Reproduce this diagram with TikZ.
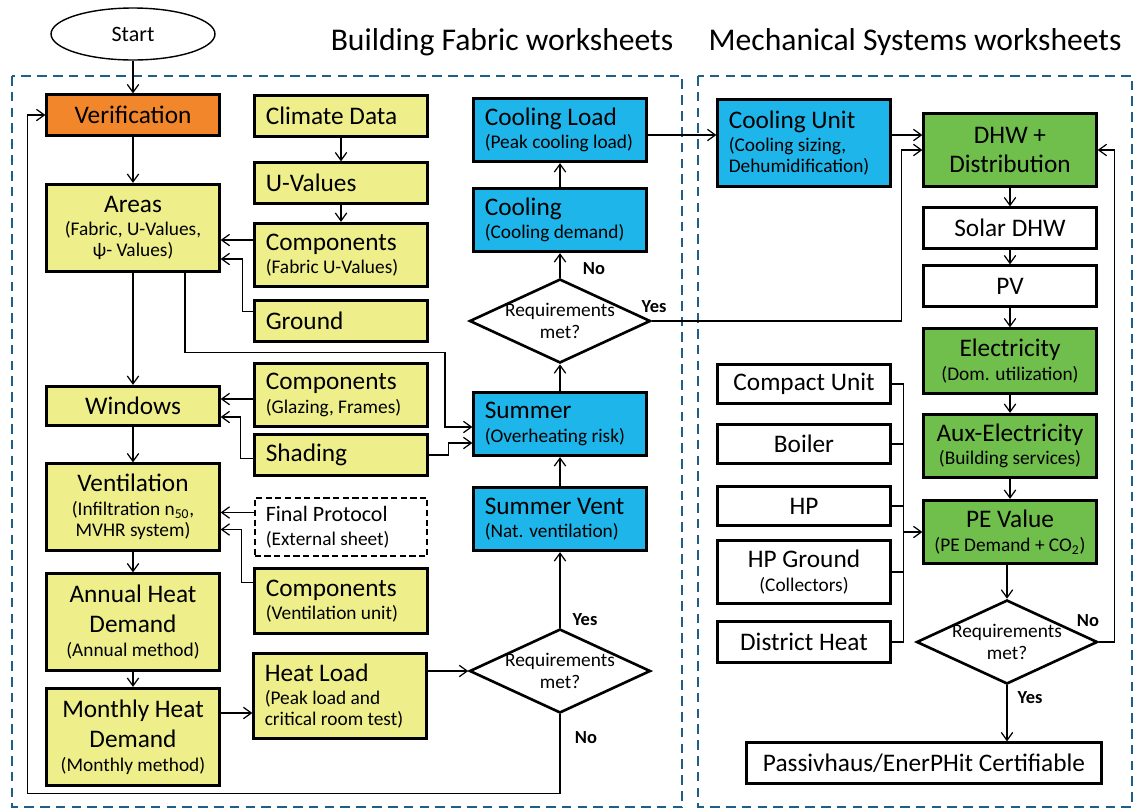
\documentclass[tikz,border=0pt]{standalone}
\usepackage{fontspec}
\setmainfont{Carlito}
\usetikzlibrary{shapes.geometric,arrows.meta}

\definecolor{fabricfill}{RGB}{238,238,138}
\definecolor{coolfill}{RGB}{30,182,234}
\definecolor{mechfill}{RGB}{112,190,76}
\definecolor{veriffill}{RGB}{242,134,42}
\definecolor{panelcol}{RGB}{31,94,135}

\newcommand\subt[1]{{\fontsize{11}{12.5}\selectfont #1}}

\tikzset{
  box/.style={draw, line width=1.6pt, minimum width=3.45cm, minimum height=0.81cm,
    inner xsep=0.08cm, inner ysep=0.08cm, text width=3.29cm, align=flush center,
    font=\fontsize{14.4}{13.5}\selectfont},
  lbox/.style={box, inner xsep=0.22cm, text width=3.01cm, align=flush left},
  tall/.style={minimum height=1.27cm},
  startnode/.style={ellipse, draw, line width=0.8pt, minimum width=3.28cm,
    minimum height=1.04cm, font=\fontsize{12.5}{14}\selectfont},
  req/.style={diamond, draw, line width=1.5pt, shape aspect=2.1, inner sep=-4pt,
    minimum width=3.62cm, minimum height=1.68cm, align=center,
    font=\fontsize{11}{12.5}\selectfont},
  lbl/.style={inner sep=0pt, font=\fontsize{10.5}{12}\selectfont\bfseries},
  sheettitle/.style={inner sep=0pt, font=\fontsize{18}{20}\selectfont},
  panel/.style={draw=panelcol, line width=1.6pt, dash pattern=on 5.5pt off 3.5pt},
  wire/.style={line width=0.7pt},
  link/.style={wire, ->},
}

\begin{document}
\begin{tikzpicture}[x=0.02cm, y=-0.02cm, >={Straight Barb[length=4.5pt,width=6.5pt]}]
\useasboundingbox (0,0) rectangle (1135,809);

% the two groups of worksheets
\draw[panel] (12,76) rectangle (682,807);
\draw[panel] (698,76) rectangle (1132,807);
\node[sheettitle] (fabtitle) at (502,42) {Building Fabric worksheets};
\node[sheettitle] (mechtitle) at (915,42) {Mechanical Systems worksheets};

\node[startnode] (start) at (133,34) {Start};

% left column
\node[box, fill=veriffill] (verif) at (133,115) {Verification};
\node[box, fill=fabricfill, minimum height=1.75cm] (areas) at (133,228)
  {Areas\\\subt{(Fabric,  U-Values,}\\[-1.5pt]\subt{ψ- Values)}};
\node[box, fill=fabricfill, minimum height=0.79cm] (windows) at (133,406) {Windows};
\node[box, fill=fabricfill, minimum height=1.73cm] (vent) at (133,507)
  {Ventilation\\\subt{(Infiltration n\textsubscript{50},}\\[-1.5pt]\subt{MVHR system)}};
\node[box, fill=fabricfill, minimum height=1.93cm] (annual) at (133,622)
  {Annual Heat\\[3.5pt]Demand\\\subt{(Annual method)}};
\node[box, fill=fabricfill, minimum height=1.95cm] (monthly) at (133,737)
  {Monthly Heat\\[3.5pt]Demand\\\subt{(Monthly method)}};

% input sheets
\node[lbox, fill=fabricfill, minimum height=0.83cm] (climate) at (341,116) {Climate Data};
\node[lbox, fill=fabricfill] (uvalues) at (341,183) {U-Values};
\node[lbox, fill=fabricfill, tall] (compfabric) at (341,255) {Components\\\subt{(Fabric U-Values)}};
\node[lbox, fill=fabricfill] (ground) at (341,321) {Ground};
\node[lbox, fill=fabricfill, tall] (compglazing) at (341,395) {Components\\\subt{(Glazing, Frames)}};
\node[lbox, fill=fabricfill] (shading) at (341,455) {Shading};
\node[lbox, fill=white, dashed, line width=1.2pt, dash pattern=on 3.5pt off 2pt,
  minimum height=1.17cm, font=\fontsize{12.5}{13.5}\selectfont] (protocol) at (341,527)
  {Final Protocol\\\subt{(External sheet)}};
\node[lbox, fill=fabricfill, minimum height=1.29cm] (compvent) at (341,601)
  {Components\\\subt{(Ventilation unit)}};
\node[lbox, fill=fabricfill, minimum height=1.71cm] (heatload) at (340,696)
  {Heat Load\\\subt{(Peak load and}\\[-1.5pt]\subt{critical room test)}};

% summer and cooling
\node[lbox, fill=coolfill, tall] (coolload) at (560,130) {Cooling Load\\\subt{(Peak cooling load)}};
\node[lbox, fill=coolfill, tall] (cooling) at (560,220) {Cooling\\\subt{(Cooling demand)}};
\node[req] (reqsummer) at (560,321) {Requirements\\met?};
\node[lbox, fill=coolfill, tall] (summer) at (560,424) {Summer\\\subt{(Overheating risk)}};
\node[lbox, fill=coolfill, tall] (summervent) at (560,519) {Summer Vent\\\subt{(Nat. ventilation)}};
\node[req] (reqheat) at (560,671) {Requirements\\met?};

% mechanical systems
\node[lbox, fill=coolfill, minimum height=1.75cm] (coolunit) at (804,143)
  {Cooling Unit\\\subt{(Cooling sizing,}\\[-1.5pt]\subt{Dehumidification)}};
\node[box, fill=mechfill, minimum height=1.45cm] (dhw) at (1010,150) {DHW +\\[3.5pt]Distribution};
\node[box, fill=white] (solar) at (1010,228) {Solar DHW};
\node[box, fill=white] (pv) at (1010,286) {PV};
\node[box, fill=mechfill, minimum height=1.29cm] (elec) at (1010,361) {Electricity\\\subt{(Dom. utilization)}};
\node[box, fill=mechfill, tall] (aux) at (1010,446) {Aux-Electricity\\\subt{(Building services)}};
\node[box, fill=mechfill, tall] (pe) at (1010,532) {PE Value\\\subt{(PE Demand + CO\textsubscript{2})}};
\node[req] (reqmech) at (1007,642) {Requirements\\met?};
\node[box, fill=white, text width=6.9cm, minimum width=7.1cm] (cert) at (924,763)
  {Passivhaus/EnerPHit Certifiable};

\node[box, fill=white, minimum height=0.79cm] (compact) at (804,384) {Compact Unit};
\node[box, fill=white, minimum height=0.79cm] (boiler) at (804,444) {Boiler};
\node[box, fill=white, minimum height=0.79cm] (hp) at (804,506) {HP};
\node[box, fill=white, minimum height=1.25cm] (hpground) at (804,572) {HP Ground\\\subt{(Collectors)}};
\node[box, fill=white, minimum height=0.83cm] (district) at (804,642) {District Heat};

% yes / no
\node[lbl] (nocool) at (594,269) {No};
\node[lbl] (yesmech) at (654,307) {Yes};
\node[lbl] (yesvent) at (585,620) {Yes};
\node[lbl] (noverif) at (586,738) {No};
\node[lbl] (nodhw) at (1088,621) {No};
\node[lbl] (yescert) at (1030,698) {Yes};

% fabric chain
\draw[link] (start) -- (verif);
\draw[link] (verif) -- (areas);
\draw[link] (areas) -- (windows);
\draw[link] (windows) -- (vent);
\draw[link] (vent) -- (annual);
\draw[link] (annual) -- (monthly);
\coordinate (m1) at ([yshift=0.48cm]monthly.east);
\draw[link] (m1) -- (m1 -| heatload.west);
\draw[link] (heatload.east |- reqheat.west) -- (reqheat.west);

% input sheets into the chain
\draw[link] (climate) -- (uvalues);
\draw[link] (uvalues) -- (compfabric);
\coordinate (f1) at ([yshift=0.3cm]compfabric.west);
\draw[link] (f1) -- (f1 -| areas.east);
\draw[link] ([yshift=0.19cm]ground.west) -- ++(-11,0) |- ([yshift=-0.62cm]areas.east);
\coordinate (g1) at ([yshift=-0.08cm]compglazing.west);
\draw[link] (g1) -- (g1 -| windows.east);
\draw[link] ([yshift=-0.07cm]shading.west) -- ++(-13,0) |- ([yshift=-0.22cm]windows.east);
\coordinate (p1) at ([yshift=0.29cm]protocol.west);
\draw[link] (p1) -- (p1 -| vent.east);
\draw[link] ([yshift=0.37cm]compvent.west) -- ++(-12,0) |- ([yshift=-0.45cm]vent.east);

% summer case
\draw[link] ([xshift=1.04cm]areas.south) -- ++(0,79) -- ++(260,0) |- ([yshift=-0.06cm]summer.west);
\draw[link] (shading.east) -- ++(20,0) |- ([yshift=-0.38cm]summer.west);
\draw[link] (reqheat) -- (summervent);
\draw[link] (summervent) -- (summer);
\draw[link] (summer) -- (reqsummer);
\draw[link] (reqsummer) -- (cooling);
\draw[link] (cooling) -- (coolload);
\coordinate (c1) at ([yshift=-0.1cm]coolload.east);
\draw[link] (c1) -- (c1 -| coolunit.west);
\coordinate (c2) at ([yshift=0.16cm]coolunit.east);
\draw[link] (c2) -- (c2 -| dhw.west);
\draw[link] (reqsummer.east) -| ([xshift=-0.42cm]dhw.west) -- (dhw.west);

% not met: back to verification
\draw[link] (reqheat.south) -- ++(0,79) -| ([xshift=-0.36cm]verif.west) -- (verif.west);

% mechanical chain
\draw[link] (dhw) -- (solar);
\draw[link] (solar) -- (pv);
\draw[link] (pv) -- (elec);
\draw[link] (elec) -- (aux);
\draw[link] (aux) -- (pe);
\draw[link] (pe.south -| reqmech) -- (reqmech.north);
\draw[link] (reqmech.east) -- ++(16,0) |- (dhw.east);
\draw[link] (reqmech.south) -- (reqmech.south |- cert.north);

% heat generators
\draw[wire] (compact.east) -- ++(12,0) coordinate (b1);
\draw[wire] (boiler.east) -- ++(12,0);
\draw[wire] (hp.east) -- ++(12,0);
\draw[wire] (hpground.east) -- ++(12,0);
\draw[wire] (district.east) -- ++(12,0) coordinate (b2);
\draw[wire] (b1) -- (b2);
\draw[link] (b1 |- pe.west) -- (pe.west);
\end{tikzpicture}
\end{document}
